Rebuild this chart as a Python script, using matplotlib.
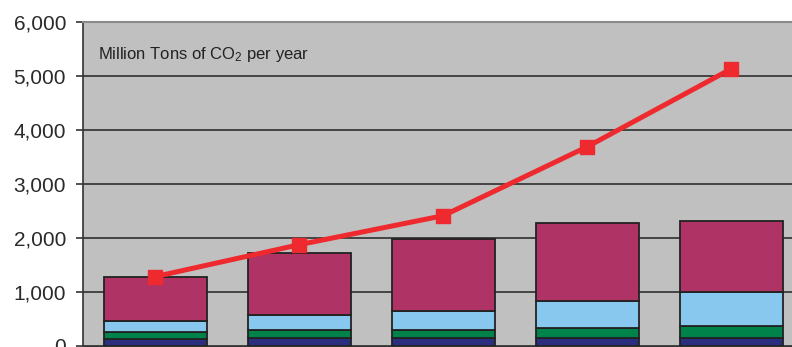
import matplotlib
matplotlib.use('Agg')
import matplotlib.pyplot as plt
import numpy as np

plt.rcParams['font.family'] = ['Liberation Sans', 'DejaVu Sans']
plt.rcParams['mathtext.default'] = 'regular'

# Stacked emission components (million tons CO2 per year)
navy_part = [124, 143, 148, 137, 137]
green_part = [124, 142, 143, 191, 223]
blue_part = [215, 278, 347, 500, 635]
magenta_part = [805, 1150, 1340, 1441, 1311]
# Total line
total_line = [1280, 1872, 2410, 3689, 5134]
y_ticks = [0, 1000, 2000, 3000, 4000, 5000, 6000]

colors = ['#2B2E7E', '#00834A', '#88C8EE', '#B03366']
parts = [navy_part, green_part, blue_part, magenta_part]

fig = plt.figure(figsize=(7.92, 3.47), dpi=100)
ax = fig.add_axes([83 / 792, 1.3 / 347, 720.5 / 792, 323.7 / 347])
ax.set_facecolor('#C0C0C0')

x = np.arange(len(total_line))
bottom = np.zeros(len(x))
for vals, col in zip(parts, colors):
    ax.bar(x, vals, bottom=bottom, width=0.715, color=col,
           edgecolor='#222222', linewidth=1.3, zorder=3)
    bottom += np.array(vals)

ax.plot(x, total_line, color='#EE2A2F', linewidth=3.6, marker='s',
        markersize=10, zorder=4)

ax.set_xlim(-0.5, len(x) - 0.5)
ax.set_ylim(0, 6000)
ax.set_yticks(y_ticks)
ax.set_yticklabels(['{:,}'.format(v) for v in y_ticks], fontsize=15, color='#2a2a2a')
ax.tick_params(axis='y', length=5.2, width=1.2, color='#333333', pad=7)
ax.tick_params(axis='x', length=0, labelbottom=False)
ax.yaxis.grid(True, color='#3a3a3a', linewidth=1.3, zorder=1)
ax.set_axisbelow(True)

ax.spines['top'].set_color('#8a8a8a')
ax.spines['top'].set_linewidth(1.5)
ax.spines['right'].set_visible(False)
ax.spines['left'].set_color('#333333')
ax.spines['left'].set_linewidth(1.2)
ax.spines['bottom'].set_color('#333333')

ax.text(-0.5 + 15 / 144, 5314, r'Million Tons of CO$_\mathregular{2}$ per year',
        fontsize=12, color='#222222', va='baseline', ha='left', zorder=5)

fig.savefig('out.png', dpi=100)
